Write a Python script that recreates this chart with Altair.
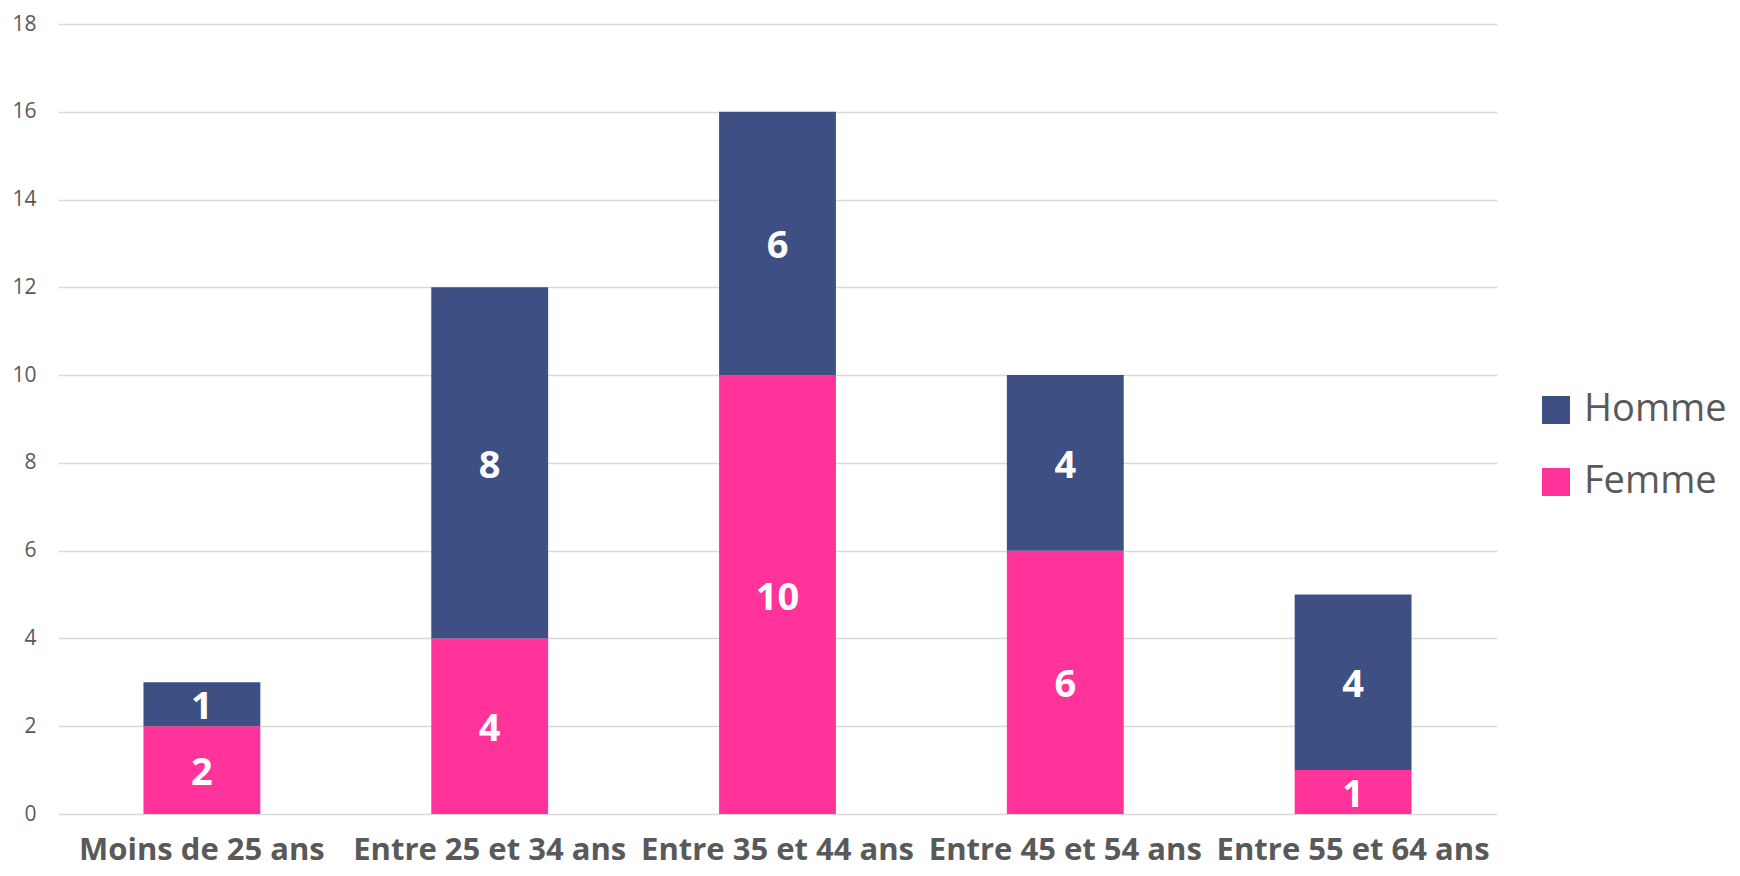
import altair as alt
import pandas as pd

categories = ["Moins de 25 ans", "Entre 25 et 34 ans", "Entre 35 et 44 ans",
              "Entre 45 et 54 ans", "Entre 55 et 64 ans"]
femme = [2, 4, 10, 6, 1]
homme = [1, 8, 6, 4, 4]
series = ["Homme", "Femme"]
colors = ["#3E4F84", "#FF3399"]
y_ticks = list(range(0, 19, 2))

rows = []
for c, f, h in zip(categories, femme, homme):
    rows.append({"cat": c, "sexe": "Femme", "val": f, "ord": 0})
    rows.append({"cat": c, "sexe": "Homme", "val": h, "ord": 1})
df = pd.DataFrame(rows)

FONT = "Open Sans"
GREY = "#595959"

x = alt.X("cat:N", sort=categories, title=None,
          scale=alt.Scale(paddingInner=0.594, paddingOuter=0.297),
          axis=alt.Axis(labelAngle=0, labelFont=FONT, labelFontWeight="bold",
                        labelFontSize=31, labelColor=GREY, ticks=False, domain=False,
                        labelPadding=45, labelBaseline="alphabetic", labelOverlap=False,
                        labelLimit=600))

base = alt.Chart(df).transform_stack(
    stack="val", groupby=["cat"], sort=[alt.SortField("ord", "ascending")],
    as_=["y0", "y1"]
).transform_calculate(mid="(datum.y0 + datum.y1) / 2")

bars = base.mark_bar().encode(
    x=x,
    y=alt.Y("y0:Q", title=None,
            scale=alt.Scale(domain=[0, 18], nice=False),
            axis=alt.Axis(values=y_ticks, labelFont=FONT, labelFontSize=21,
                          labelColor=GREY, ticks=False, domain=False,
                          gridColor="#D9D9D9", gridWidth=1.5, labelPadding=22)),
    y2="y1:Q",
    color=alt.Color("sexe:N", scale=alt.Scale(domain=series, range=colors),
                    title=None,
                    legend=alt.Legend(orient="none", legendX=1479, legendY=367,
                                      symbolType="square", symbolSize=784,
                                      symbolStrokeWidth=0, labelFont=FONT,
                                      labelFontSize=38, labelColor=GREY,
                                      labelOffset=9, rowPadding=34, padding=0,
                                      labelLimit=400)),
)

labels = base.mark_text(color="white", font=FONT, fontWeight="bold",
                        fontSize=38, baseline="middle", dy=4).encode(
    x=alt.X("cat:N", sort=categories),
    y=alt.Y("mid:Q"),
    text="val:Q",
)

chart = (bars + labels).properties(
    width=1439, height=790,
    padding={"left": 50, "top": 16, "right": 235, "bottom": 54},
    autosize=alt.AutoSizeParams(type="none"),
).configure_view(stroke=None)

chart.save("out.html", embed_options={"renderer": "svg", "actions": False})
